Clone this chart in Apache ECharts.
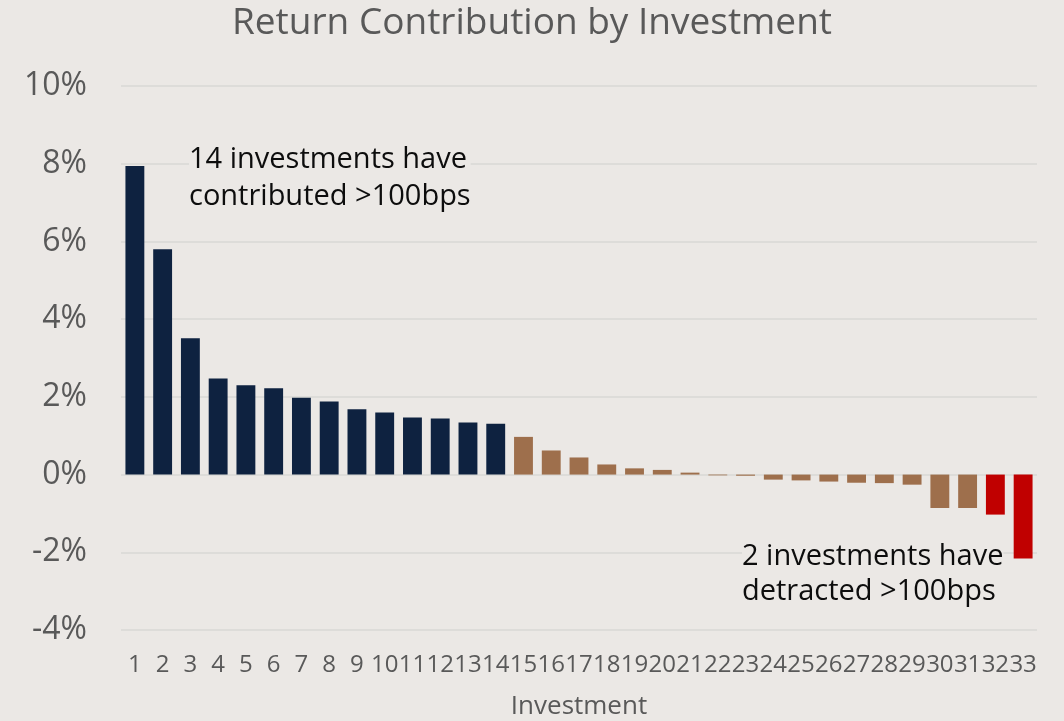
<!DOCTYPE html>
<html>
	<head>
		<meta charset="UTF-8">
		<title>Return Contribution by Investment</title>
		<style>
			html, body { margin: 0; padding: 0; background: #ebe8e5; }
			#chart { width: 1064px; height: 721px; }
		</style>
	</head>
	<body>
		<div id="chart"></div>
		<script src="https://cdn.jsdelivr.net/npm/echarts@6/dist/echarts.min.js"></script>
		<script>
			// investment numbers 1..33
			var investments = ['1', '2', '3', '4', '5', '6', '7', '8', '9', '10', '11', '12', '13', '14', '15', '16', '17',
				'18', '19', '20', '21', '22', '23', '24', '25', '26', '27', '28', '29', '30', '31', '32', '33'];
			// return contribution in %
			var contribution = [7.94, 5.80, 3.51, 2.47, 2.30, 2.22, 1.98, 1.88, 1.68, 1.60, 1.47, 1.44, 1.34, 1.31,
				0.97, 0.62, 0.44, 0.26, 0.16, 0.12, 0.05, -0.02, -0.03, -0.13, -0.15, -0.18, -0.21, -0.22, -0.26,
				-0.86, -0.86, -1.03, -2.16];
			// bucket for each bar: 0 = >100bps, 1 = small, 2 = < -100bps
			var bucket = [0, 0, 0, 0, 0, 0, 0, 0, 0, 0, 0, 0, 0, 0,
				1, 1, 1, 1, 1, 1, 1, 1, 1, 1, 1, 1, 1, 1, 1, 1, 1, 2, 2];
			var bucketColors = ['#0e2240', '#9e6f4c', '#c00000'];

			var chart = echarts.init(document.getElementById('chart'));
			var font = '"Open Sans", "Noto Sans", sans-serif';

			var option = {
				backgroundColor: '#ebe8e5',
				textStyle: { fontFamily: font },
				title: {
					text: 'Return Contribution by Investment',
					left: 'center',
					top: 0,
					textStyle: { color: '#595959', fontSize: 37, fontWeight: 'normal', fontFamily: font }
				},
				grid: { left: 121, right: 27, top: 86, bottom: 91, outerBoundsMode: 'none' },
				xAxis: {
					type: 'category',
					data: investments,
					name: 'Investment',
					nameLocation: 'middle',
					nameGap: 64,
					nameTextStyle: { color: '#595959', fontSize: 26 },
					axisLine: { show: false },
					axisTick: { show: false },
					axisLabel: { interval: 0, color: '#595959', fontSize: 24, margin: 23 }
				},
				yAxis: {
					type: 'value',
					min: -4,
					max: 10,
					interval: 2,
					axisLine: { show: false },
					axisTick: { show: false },
					axisLabel: { color: '#595959', fontSize: 32, margin: 34, formatter: '{value}%' },
					splitLine: { lineStyle: { color: '#d9d8d5', width: 1.5 } }
				},
				series: [{
					type: 'bar',
					barCategoryGap: '32%',
					data: contribution.map(function(v, i) {
						return { value: v, itemStyle: { color: bucketColors[bucket[i]] } };
					})
				}],
				graphic: [{
					type: 'text',
					left: 189,
					top: 141,
					z: 10,
					style: {
						text: '14 investments have\ncontributed >100bps',
						font: '29px "Open Sans", sans-serif',
						fill: '#0d0d0d',
						lineHeight: 37,
						backgroundColor: '#ebe8e5'
					}
				}, {
					type: 'text',
					left: 742,
					top: 539,
					z: 10,
					style: {
						text: '2 investments have\ndetracted >100bps',
						font: '29px "Open Sans", sans-serif',
						fill: '#0d0d0d',
						lineHeight: 35,
						backgroundColor: '#ebe8e5'
					}
				}]
			};
			chart.setOption(option);
		</script>
	</body>
</html>
